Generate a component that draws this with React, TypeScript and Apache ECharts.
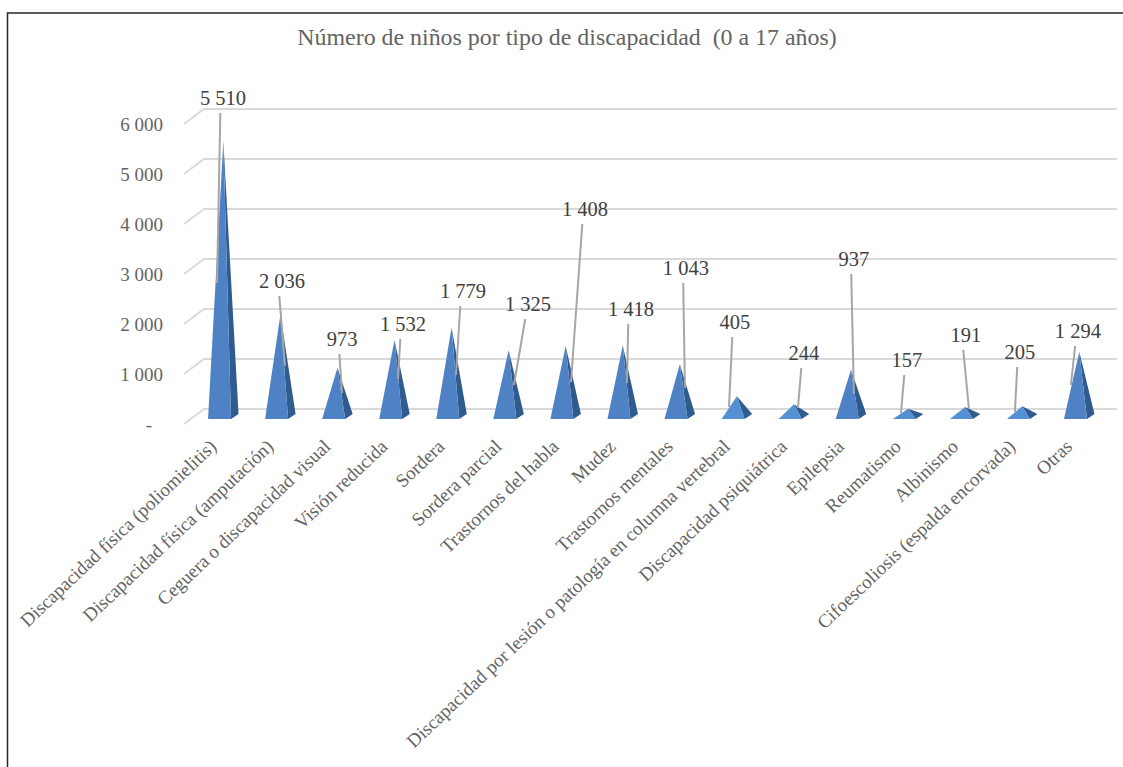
import React, { useEffect, useRef } from "react";
import * as echarts from "echarts";

const categories = [
  "Discapacidad física (poliomielitis)",
  "Discapacidad física (amputación)",
  "Ceguera o discapacidad visual",
  "Visión reducida",
  "Sordera",
  "Sordera parcial",
  "Trastornos del habla",
  "Mudez",
  "Trastornos mentales",
  "Discapacidad por lesión o patología en columna vertebral",
  "Discapacidad psiquiátrica",
  "Epilepsia",
  "Reumatismo",
  "Albinismo",
  "Cifoescoliosis (espalda encorvada)",
  "Otras",
];

const values = [5510, 2036, 973, 1532, 1779, 1325, 1408, 1418, 1043, 405, 244, 937, 157, 191, 205, 1294];

const yTicks = [0, 1000, 2000, 3000, 4000, 5000, 6000];

// Hand-placed data labels: offset of the label and of the leader's tip from each mark's value point.
const labelOffsets = [
  [3.5, -50.5], [5.4, -41.2], [8.4, -36.4], [12.3, -23.4], [15.2, -44], [23.1, -53.75], [23.1, -144.6], [12, -44.1],
  [9.9, -103.85], [1.9, -81.75], [13.8, -58.8], [6.7, -118.15], [2.7, -56.15], [4.6, -79.45], [1.5, -61.75], [2.4, -28.3],
];
const leaderTips = [
  [-2.5, 134.5], [8.4, 43.8], [8.4, 17.6], [7.3, 31.6], [8.2, 40], [9.1, 27.25], [9.1, 28.4], [8, 29.9],
  [8.9, 16.15], [-4.1, 3.25], [7.8, -3.8], [6.7, 16.85], [-3.3, -3.15], [7.6, -5.45], [-3.5, -1.75], [-4.6, 25.7],
];

const SERIF = '"Liberation Serif", "Times New Roman", serif';
const TEXT = "#636363";
const GRID = "#d9d9d9";
const FRONT = "#4f82c4";
const FRONT_LOW = "#5590d3";
const SIDE = "#2f5b8e";
const LEADER = "#a6a6a6";

const formatNumber = (v: number) => String(v).replace(/\B(?=(\d{3})+$)/g, " ");

// Floor offset of the 3D plot: the back wall sits up and to the right of the value axis.
const WALL_DX = 13;
const WALL_DY = 15;
const FRONT_LEFT = 7;

const renderGridLine = (params: any, api: any) => {
  const y = api.coord([0, api.value(1)])[1];
  const sys = params.coordSys;
  return {
    type: "polyline",
    shape: {
      points: [
        [sys.x - FRONT_LEFT, y],
        [sys.x + WALL_DX, y - WALL_DY],
        [sys.x + sys.width + WALL_DX, y - WALL_DY],
      ],
    },
    style: { fill: "none", stroke: GRID, lineWidth: 1.8 },
  };
};

const renderPyramid = (_params: any, api: any) => {
  const [cx, vy] = api.coord([api.value(0), api.value(1)]);
  const [, zero] = api.coord([api.value(0), 0]);
  const base = zero - 5;
  const half = 11.5;
  const apex = [cx + 3.8, vy - 7.5];
  return {
    type: "group",
    children: [
      {
        type: "polygon",
        shape: { points: [[cx + half, base], [cx + half + 7.5, base - 5], apex] },
        style: { fill: SIDE },
      },
      {
        type: "polygon",
        shape: { points: [[cx - half, base], [cx + half, base], apex] },
        style: { fill: api.value(1) < 500 ? FRONT_LOW : FRONT },
      },
    ],
  };
};

const renderLabel = (_params: any, api: any) => {
  const i = api.value(0);
  const [cx, vy] = api.coord([i, api.value(1)]);
  const lx = cx + labelOffsets[i][0];
  const ly = vy + labelOffsets[i][1];
  const tx = cx + leaderTips[i][0];
  const ty = vy + leaderTips[i][1];
  return {
    type: "group",
    children: [
      {
        type: "line",
        shape: { x1: lx - 2.7, y1: ly + 15, x2: tx, y2: ty },
        style: { stroke: LEADER, lineWidth: 2 },
      },
      {
        type: "text",
        style: {
          text: formatNumber(api.value(1)),
          x: lx,
          y: ly,
          align: "center",
          verticalAlign: "middle",
          font: `20.5px ${SERIF}`,
          fill: "#404040",
        },
      },
    ],
  };
};

export default function App() {
  const ref = useRef<HTMLDivElement>(null);

  useEffect(() => {
    const chart = echarts.init(ref.current!, undefined, { renderer: "svg" });
    const points = values.map((v, i) => [i, v]);
    chart.setOption({
      animation: false,
      backgroundColor: "#ffffff",
      title: {
        text: "Número de niños por tipo de discapacidad  (0 a 17 años)",
        left: 562,
        top: 20,
        textAlign: "center",
        textStyle: { fontFamily: SERIF, fontSize: 23.9, fontWeight: "normal", color: TEXT },
      },
      graphic: [
        {
          type: "polyline",
          silent: true,
          shape: { points: [[7.5, 767], [7.5, 13], [1123, 13]] },
          style: { fill: "none", stroke: "#262626", lineWidth: 1.5 },
        },
      ],
      grid: { left: 191, top: 124, width: 913, height: 300 },
      xAxis: {
        type: "category",
        data: categories,
        axisLine: { show: false },
        axisTick: { show: false },
        splitLine: { show: false },
        axisLabel: {
          interval: 0,
          rotate: 43.5,
          margin: 13,
          padding: [0, 9, 0, 0],
          fontFamily: SERIF,
          fontSize: 19,
          color: TEXT,
        },
      },
      yAxis: {
        type: "value",
        min: 0,
        max: 6000,
        interval: 1000,
        axisLine: { show: false },
        axisTick: { show: false },
        splitLine: { show: false },
        axisLabel: {
          margin: 28,
          fontFamily: SERIF,
          fontSize: 19,
          color: TEXT,
          formatter: (v: number) => (v === 0 ? "{dash|-}" : formatNumber(v)),
          rich: { dash: { fontFamily: SERIF, fontSize: 19, color: TEXT, padding: [0, 11, 0, 0] } },
        },
      },
      series: [
        {
          type: "custom",
          z: 1,
          clip: false,
          silent: true,
          renderItem: renderGridLine,
          encode: { x: 0, y: 1 },
          data: yTicks.map((t) => [0, t]),
        },
        {
          type: "custom",
          z: 2,
          clip: false,
          silent: true,
          renderItem: renderPyramid,
          encode: { x: 0, y: 1 },
          data: points,
        },
        {
          type: "custom",
          z: 3,
          clip: false,
          silent: true,
          renderItem: renderLabel,
          encode: { x: 0, y: 1 },
          data: points,
        },
      ],
    });
    return () => chart.dispose();
  }, []);

  return <div ref={ref} style={{ position: "fixed", left: 0, top: 0, width: 1123, height: 767 }} />;
}
